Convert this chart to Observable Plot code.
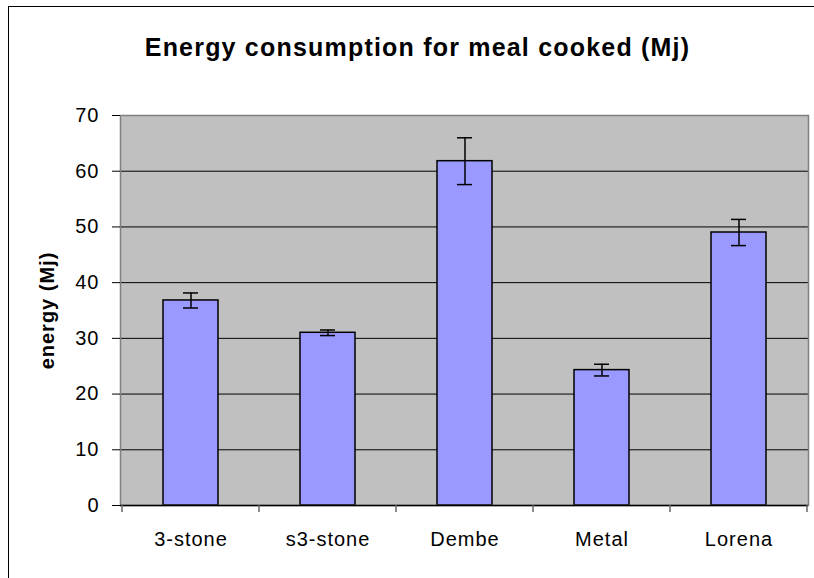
<!DOCTYPE html>
<html>
<head>
<meta charset="utf-8">
<script src="https://cdn.jsdelivr.net/npm/d3@7"></script>
<script src="https://cdn.jsdelivr.net/npm/@observablehq/plot@0.6"></script>
<style>
  html, body { margin: 0; padding: 0; background: #fff; }
  #wrap { position: relative; width: 814px; height: 578px; overflow: hidden; }
  #border { position: absolute; left: 8px; top: 6px; width: 900px; height: 700px;
            border-left: 1px solid #000; border-top: 1px solid #000; pointer-events: none; }
  svg text { font-family: "Liberation Sans", Arial, sans-serif; }
</style>
</head>
<body>
<div id="wrap"><div id="border"></div></div>
<script>
const title = "Energy consumption for meal cooked (Mj)";
const yLabel = "energy (Mj)";
const categories = ["3-stone", "s3-stone", "Dembe", "Metal", "Lorena"];
const values = [36.8, 31.0, 61.8, 24.3, 49.0];
const errors = [1.35, 0.5, 4.2, 1.05, 2.35];
const yTicks = [0, 10, 20, 30, 40, 50, 60, 70];

const data = categories.map((c, i) => ({cat: c, v: values[i], lo: values[i] - errors[i], hi: values[i] + errors[i]}));

const plot = Plot.plot({
  width: 814,
  height: 578,
  marginLeft: 120,
  marginRight: 6,
  marginTop: 115,
  marginBottom: 73,
  style: {fontFamily: "Liberation Sans, Arial, sans-serif", fontSize: "20px", background: "transparent", overflow: "visible"},
  x: {domain: categories, paddingInner: 0.6, paddingOuter: 0.3, label: null},
  y: {domain: [0, 70], label: null},
  marks: [
    Plot.frame({fill: "#C0C0C0", stroke: null}),
    Plot.gridY(yTicks.filter(t => t > 0 && t < 70), {stroke: "#000", strokeOpacity: 1, strokeWidth: 1}),
    Plot.barY(data, {x: "cat", y: "v", fill: "#9999FF", stroke: "#000", strokeWidth: 1.5}),
    Plot.ruleX(data, {x: "cat", y1: "lo", y2: "hi", stroke: "#000", strokeWidth: 1.5}),
    Plot.tickY(data, {x: "cat", y: "hi", stroke: "#000", strokeWidth: 1.5, inset: 20}),
    Plot.tickY(data, {x: "cat", y: "lo", stroke: "#000", strokeWidth: 1.5, inset: 20}),
    Plot.frame({stroke: "#808080", strokeWidth: 1.5}),
    Plot.ruleY([0], {stroke: "#000", strokeWidth: 1.5}),
    Plot.axisY({ticks: yTicks, tickSize: 8, tickPadding: 13, fontSize: 20, label: null, stroke: "#000", tickFormat: d => String(d)}),
    Plot.axisX({tickSize: 0, tickPadding: 26, fontSize: 20, label: null}),
    Plot.text([yLabel], {frameAnchor: "left", textAnchor: "middle", rotate: -90, dx: -73, fontWeight: "bold", fontSize: 20}),
    Plot.text([title], {frameAnchor: "top", lineAnchor: "bottom", dx: -47, dy: -60, fontWeight: "bold", fontSize: 25})
  ]
});

d3.select(plot).selectAll("text").attr("letter-spacing", "1px");
d3.select(plot).selectAll("text").filter(function() { return this.textContent === title; }).attr("letter-spacing", "1.2px");

// category boundary ticks on the x axis, from the band scale
const xs = plot.scale("x");
const ys = plot.scale("y");
const half = (xs.step - xs.bandwidth) / 2;
const bounds = categories.map(c => xs.apply(c) - half).concat([xs.apply(categories[categories.length - 1]) + xs.bandwidth + half]);
const y0 = ys.apply(0);
d3.select(plot).append("g").selectAll("line").data(bounds).join("line")
  .attr("x1", d => d).attr("x2", d => d)
  .attr("y1", y0).attr("y2", y0 + 7)
  .attr("stroke", "#666").attr("stroke-width", 1.5);

document.getElementById("wrap").prepend(plot);
</script>
</body>
</html>
